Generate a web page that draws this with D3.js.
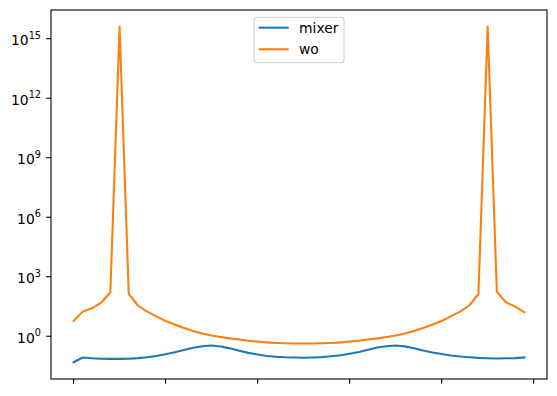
<!DOCTYPE html>
<html>
<head>
<meta charset="utf-8">
<script src="https://cdn.jsdelivr.net/npm/d3@7"></script>
<style>
  body { margin: 0; background: #fff; }
  svg { display: block; font-family: "DejaVu Sans", sans-serif; }
</style>
</head>
<body>
<svg id="chart" width="557" height="396"></svg>
<script>
// values (log y axis)
var mixer = [
  0.049, 0.085, 0.078, 0.074, 0.072, 0.072, 0.074, 0.079, 0.087, 0.102,
  0.123, 0.155, 0.204, 0.263, 0.316, 0.339, 0.302, 0.245, 0.186, 0.145,
  0.120, 0.102, 0.093, 0.087, 0.085, 0.083, 0.085, 0.089, 0.098, 0.110,
  0.132, 0.162, 0.209, 0.269, 0.316, 0.339, 0.309, 0.251, 0.191, 0.151,
  0.126, 0.107, 0.095, 0.087, 0.081, 0.078, 0.076, 0.078, 0.079, 0.085
];
var wo = [
  5.9, 17.4, 25.7, 49, 166, 4.0e15, 135, 35.5, 17.4, 10.0,
  5.9, 3.9, 2.63, 1.86, 1.38, 1.10, 0.91, 0.78, 0.68, 0.59,
  0.54, 0.49, 0.46, 0.44, 0.43, 0.43, 0.43, 0.44, 0.46, 0.49,
  0.54, 0.59, 0.68, 0.78, 0.91, 1.10, 1.38, 1.86, 2.63, 3.9,
  5.9, 10.0, 17.4, 35.5, 135, 4.0e15, 174, 51, 31, 16.2
];
var seriesNames = ["mixer", "wo"];
var seriesColors = ["#1f77b4", "#ff7f0e"];
var xTicks = [0, 10, 20, 30, 40, 50];
var yTickExponents = [0, 3, 6, 9, 12, 15];

(function() {
  var svg = d3.select("#chart"),
    margin = { top: 10, right: 10, bottom: 17, left: 51 },
    width = 557 - margin.left - margin.right,
    height = 396 - margin.top - margin.bottom,
    tickLen = 4.86,
    series = [mixer, wo],
    xs = mixer.map(function(d, i) { return i; }),
    xPad = (xs[xs.length - 1] - xs[0]) * 0.05,
    allVals = mixer.concat(wo),
    logMin = Math.log10(d3.min(allVals)),
    logMax = Math.log10(d3.max(allVals)),
    yPad = (logMax - logMin) * 0.05,
    x = d3.scaleLinear()
      .domain([xs[0] - xPad, xs[xs.length - 1] + xPad])
      .range([0, width]),
    y = d3.scaleLog()
      .domain([Math.pow(10, logMin - yPad), Math.pow(10, logMax + yPad)])
      .range([height, 0]),
    g = svg.append("g")
      .attr("transform", "translate(" + margin.left + "," + margin.top + ")"),
    line = d3.line()
      .x(function(d, i) { return x(xs[i]); })
      .y(function(d) { return y(d); });

  g.append("defs").append("clipPath")
    .attr("id", "clip")
    .append("rect")
    .attr("width", width)
    .attr("height", height);

  // lines
  g.append("g")
    .attr("clip-path", "url(#clip)")
    .selectAll("path")
    .data(series)
    .enter()
    .append("path")
    .attr("d", line)
    .attr("fill", "none")
    .attr("stroke", function(d, i) { return seriesColors[i]; })
    .attr("stroke-width", 2.08)
    .attr("stroke-linejoin", "round")
    .attr("stroke-linecap", "square");

  // x ticks (no labels)
  g.append("g")
    .selectAll("line")
    .data(xTicks)
    .enter()
    .append("line")
    .attr("x1", function(d) { return x(d); })
    .attr("x2", function(d) { return x(d); })
    .attr("y1", height)
    .attr("y2", height + tickLen)
    .attr("stroke", "#000")
    .attr("stroke-width", 1.1);

  // y ticks with 10^n labels
  var yt = g.append("g")
    .selectAll("g")
    .data(yTickExponents)
    .enter()
    .append("g")
    .attr("transform", function(d) { return "translate(0," + y(Math.pow(10, d)) + ")"; });

  yt.append("line")
    .attr("x1", -tickLen)
    .attr("x2", 0)
    .attr("stroke", "#000")
    .attr("stroke-width", 1.1);

  var label = yt.append("text")
    .attr("x", -tickLen - 5.2)
    .attr("y", 6.4)
    .attr("text-anchor", "end")
    .attr("fill", "#000")
    .style("font-size", "13.9px");

  label.append("tspan").text("10");
  label.append("tspan")
    .attr("dy", -6.6)
    .style("font-size", "9.7px")
    .text(function(d) { return d; });

  // frame
  g.append("rect")
    .attr("width", width)
    .attr("height", height)
    .attr("fill", "none")
    .attr("stroke", "#000")
    .attr("stroke-width", 1.1);

  // legend
  var legend = g.append("g")
    .attr("transform", "translate(" + (width / 2 - 45) + ",7.3)");

  legend.append("rect")
    .attr("width", 90)
    .attr("height", 45.4)
    .attr("rx", 3)
    .attr("fill", "#fff")
    .attr("fill-opacity", 0.8)
    .attr("stroke", "#ccc")
    .attr("stroke-width", 1);

  var item = legend.selectAll(".item")
    .data(seriesNames)
    .enter()
    .append("g")
    .attr("class", "item")
    .attr("transform", function(d, i) { return "translate(0," + (10.4 + i * 21.6) + ")"; });

  item.append("line")
    .attr("x1", 4.7)
    .attr("x2", 34.7)
    .attr("stroke", function(d, i) { return seriesColors[i]; })
    .attr("stroke-width", 2.08);

  item.append("text")
    .attr("x", 45)
    .attr("y", 5)
    .attr("fill", "#000")
    .style("font-size", "13.9px")
    .text(function(d) { return d; });
})();
</script>
</body>
</html>
